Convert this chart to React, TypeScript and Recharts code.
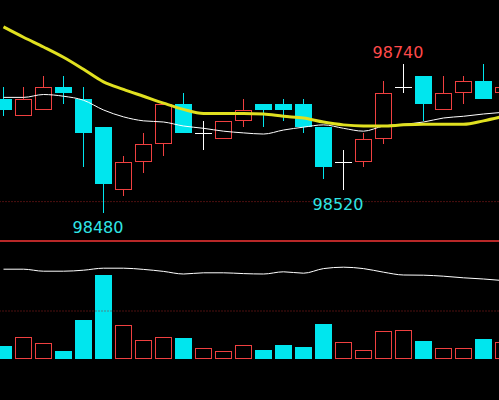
import { ComposedChart, Bar, Line, XAxis, YAxis, ReferenceLine, ReferenceDot } from 'recharts';

// 26 bars, the last one only partly in view
const OPEN = [98680, 98650, 98660, 98700, 98680, 98630, 98520, 98570, 98600, 98670, 98620, 98610, 98640,
  98670, 98670, 98670, 98630, 98570, 98570, 98610, 98700, 98720, 98660, 98690, 98710, 98690];
const HIGH = [98700, 98700, 98720, 98720, 98700, 98630, 98580, 98620, 98670, 98690, 98640, 98640, 98680,
  98670, 98680, 98680, 98630, 98590, 98620, 98710, 98740, 98720, 98720, 98720, 98740, 98700];
const LOW = [98650, 98650, 98660, 98670, 98560, 98480, 98510, 98550, 98580, 98620, 98590, 98610, 98630,
  98630, 98640, 98620, 98540, 98520, 98560, 98600, 98690, 98640, 98660, 98670, 98680, 98690];
const CLOSE = [98660, 98680, 98700, 98690, 98620, 98530, 98570, 98600, 98670, 98620, 98620, 98640, 98660,
  98660, 98660, 98630, 98560, 98570, 98610, 98690, 98700, 98670, 98690, 98710, 98680, 98700];
const MA_FAST = [98682, 98682, 98687, 98684, 98677, 98660, 98648, 98641, 98639, 98632, 98628, 98623, 98620,
  98618, 98625, 98630, 98634, 98628, 98623, 98632, 98635, 98639, 98646, 98649, 98653, 98656];
const MA_SLOW = [98805, 98787, 98770, 98752, 98731, 98709, 98696, 98684, 98672, 98661, 98654, 98654, 98654,
  98653, 98649, 98646, 98639, 98634, 98632, 98632, 98634, 98635, 98635, 98635, 98641, 98649];
const VOLUME = [650, 1080, 780, 400, 1950, 4200, 1680, 950, 1080, 1050, 530, 400, 680,
  450, 700, 600, 1750, 850, 430, 1400, 1450, 900, 530, 530, 1000, 830];
const OPEN_INTEREST = [185540, 185540, 185440, 185440, 185490, 185590, 185590, 185530, 185430, 185300, 185360,
  185360, 185320, 185300, 185410, 185340, 185570, 185640, 185570, 185390, 185250, 185240, 185190, 185110,
  185050, 184970];

// bars whose high / low gets a price tag
const MARKS = [
  { index: 20, kind: 'high' },
  { index: 5, kind: 'low' },
  { index: 17, kind: 'low' },
];

const UP = '#f04040';
const DOWN = '#00e6ee';
const DOJI = '#ffffff';
const GRID = '#9a2020';

const rows = OPEN.map((open, i) => ({
  i,
  open,
  high: HIGH[i],
  low: LOW[i],
  close: CLOSE[i],
  range: [LOW[i], HIGH[i]],
  maFast: MA_FAST[i],
  maSlow: MA_SLOW[i],
  volume: VOLUME[i],
  oi: OPEN_INTEREST[i],
}));

// snap to the middle of a pixel so 1px strokes stay crisp
const mid = (v: number) => Math.floor(v) + 0.5;

function Candle(props: any) {
  const { x, y, width, height, payload } = props;
  const { open, close, high, low } = payload;
  const cx = mid(x + width / 2);
  const py = (p: number) => y + ((high - p) * height) / (high - low);
  const top = Math.round(py(Math.max(open, close)));
  const bot = Math.round(py(Math.min(open, close)));
  const yHigh = Math.round(y);
  const yLow = Math.round(y + height);

  if (close === open) {
    return (
      <g>
        <line x1={cx} y1={yHigh} x2={cx} y2={yLow} stroke={DOJI} strokeWidth={1} />
        <line x1={cx - 8.5} y1={top + 0.5} x2={cx + 8.5} y2={top + 0.5} stroke={DOJI} strokeWidth={1} />
      </g>
    );
  }
  if (close > open) {
    return (
      <g>
        {yHigh < top && <line x1={cx} y1={yHigh} x2={cx} y2={top} stroke={UP} strokeWidth={1} />}
        {yLow > bot && <line x1={cx} y1={bot} x2={cx} y2={yLow} stroke={UP} strokeWidth={1} />}
        <rect x={cx - 8} y={top + 0.5} width={16} height={Math.max(bot - top - 1, 1)}
          fill="none" stroke={UP} strokeWidth={1} shapeRendering="crispEdges" />
      </g>
    );
  }
  return (
    <g>
      <line x1={cx} y1={yHigh} x2={cx} y2={yLow} stroke={DOWN} strokeWidth={1} />
      <rect x={cx - 8.5} y={top} width={17} height={Math.max(bot - top, 1)} fill={DOWN} />
    </g>
  );
}

function VolumeBar(props: any) {
  const { x, y, width, height, payload } = props;
  const cx = mid(x + width / 2);
  const top = Math.round(y);
  const base = Math.round(y + height);
  if (payload.close < payload.open) {
    return <rect x={cx - 8.5} y={top} width={17} height={base - top} fill={DOWN} />;
  }
  return (
    <rect x={cx - 8} y={top + 0.5} width={16} height={Math.max(base - top - 1, 1)}
      fill="none" stroke={UP} strokeWidth={1} shapeRendering="crispEdges" />
  );
}

function PriceTag({ cx, cy, kind, value }: any) {
  const high = kind === 'high';
  return (
    <text x={cx - 5.5} y={high ? cy - 6 : cy + 20} textAnchor="middle" fontSize={16}
      fontFamily="DejaVu Sans, sans-serif" fill={high ? '#ff4a4a' : '#30e6e6'}>
      {value}
    </text>
  );
}

export default function App() {
  return (
    <div style={{ position: 'absolute', left: 0, top: 0, width: 499, height: 400, background: '#000', overflow: 'hidden' }}>
      <ComposedChart width={513.5} height={240} data={rows} margin={{ top: 0, right: 0, bottom: 0, left: -6.5 }}>
        <XAxis dataKey="i" hide />
        <YAxis hide domain={[98433, 98852]} allowDataOverflow />
        <ReferenceLine y={98500} stroke={GRID} strokeDasharray="1 2" />
        <Bar dataKey="range" shape={Candle} isAnimationActive={false} />
        <Line dataKey="maFast" type="monotone" stroke="#ffffff" strokeWidth={1} dot={false} activeDot={false} isAnimationActive={false} />
        <Line dataKey="maSlow" type="monotone" stroke="#e0e020" strokeWidth={3} dot={false} activeDot={false} isAnimationActive={false} />
        {MARKS.map((m) => {
          const value = m.kind === 'high' ? HIGH[m.index] : LOW[m.index];
          return (
            <ReferenceDot key={m.index} x={m.index} y={value} r={0}
              shape={(p: any) => <PriceTag cx={p.cx} cy={p.cy} kind={m.kind} value={value} />} />
          );
        })}
      </ComposedChart>
      <ComposedChart width={513.5} height={160} data={rows} margin={{ top: 0, right: 0, bottom: 41, left: -6.5 }}>
        <XAxis dataKey="i" hide />
        <YAxis yAxisId="vol" hide domain={[0, 5950]} allowDataOverflow />
        <YAxis yAxisId="oi" hide domain={[181050, 187000]} allowDataOverflow />
        <ReferenceLine yAxisId="vol" y={5900} stroke="#b82828" strokeWidth={2} />
        <ReferenceLine yAxisId="vol" y={2400} stroke={GRID} strokeDasharray="1 2" />
        <Bar yAxisId="vol" dataKey="volume" shape={VolumeBar} isAnimationActive={false} />
        <Line yAxisId="oi" dataKey="oi" type="monotone" stroke="#ffffff" strokeWidth={1} dot={false} activeDot={false} isAnimationActive={false} />
      </ComposedChart>
    </div>
  );
}
